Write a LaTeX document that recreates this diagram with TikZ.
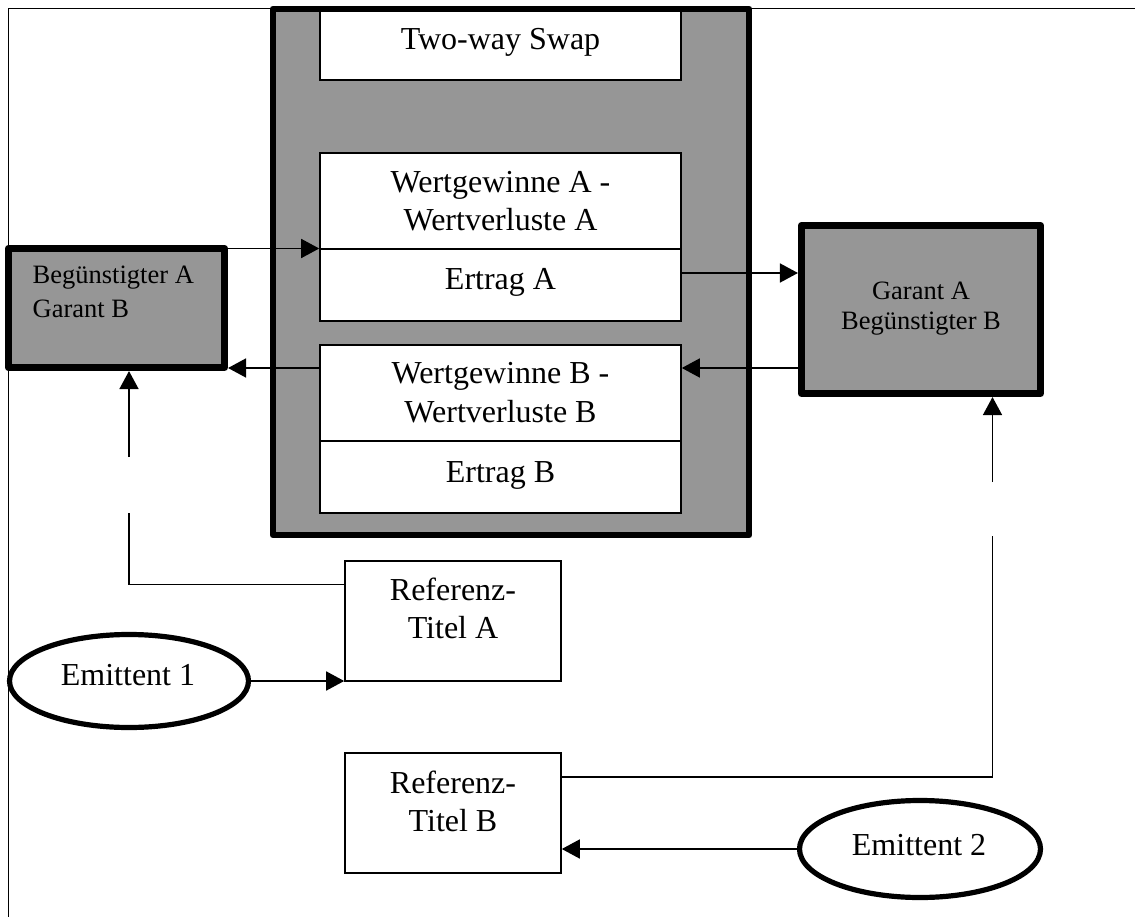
\documentclass[tikz,border=0pt]{standalone}
\usepackage{fontspec}
\setmainfont{Liberation Serif}
\usetikzlibrary{arrows.meta,shapes.geometric}
\definecolor{boxgray}{RGB}{150,150,150}
\begin{document}
\begin{tikzpicture}[x=1pt,y=-1pt,
  thinline/.style={line width=1.6pt},
  thickbox/.style={rectangle,draw,fill=boxgray,line width=6.8pt,line join=round,inner sep=0pt},
  whitebox/.style={rectangle,draw,fill=white,line width=1.6pt,inner sep=0pt},
  oval/.style={ellipse,draw,fill=white,line width=5.2pt,inner sep=0pt},
  conn/.style={line width=1.6pt},
  arr/.style={line width=1.6pt,-{Triangle[length=18pt,width=19pt]}},
  bigtxt/.style={font=\fontsize{32}{37}\selectfont,anchor=base,inner sep=0pt},
  smalltxt/.style={font=\fontsize{26.5}{30}\selectfont,anchor=base,inner sep=0pt}]
\useasboundingbox (0,0) rectangle (1135,917);

% page frame
\draw[thinline] (8.5,917) -- (8.5,8.5) -- (1135,8.5);

% swap container and its parts
\node[thickbox,minimum width=476pt,minimum height=526pt] (swap) at (511,272) {};
\node[whitebox,minimum width=361pt,minimum height=69pt] (twoway) at (500.5,45.5) {};
\node[whitebox,minimum width=361pt,minimum height=96pt] (wAtop) at (500.5,201) {};
\node[whitebox,minimum width=361pt,minimum height=72pt] (wAbot) at (500.5,285) {};
\node[whitebox,minimum width=361pt,minimum height=96pt] (wBtop) at (500.5,393) {};
\node[whitebox,minimum width=361pt,minimum height=72pt] (wBbot) at (500.5,477) {};

% parties
\node[thickbox,minimum width=216.3pt,minimum height=119.3pt] (begA) at (116.5,308) {};
\node[thickbox,minimum width=239.3pt,minimum height=168.3pt] (garA) at (921,309.5) {};

% reference titles and issuers
\node[whitebox,minimum width=216pt,minimum height=120pt] (refA) at (453,621) {};
\node[whitebox,minimum width=216pt,minimum height=120pt] (refB) at (453,813) {};
\node[oval,minimum width=239pt,minimum height=93pt] (em1) at (129,681) {};
\node[oval,minimum width=241pt,minimum height=97pt] (em2) at (920,849) {};

% labels
\node[bigtxt] (tSwap) at (500.5,50) {Two-way Swap};
\node[bigtxt] (tWA1) at (500.5,193) {Wertgewinne A -};
\node[bigtxt] (tWA2) at (500.5,231) {Wertverluste A};
\node[bigtxt] (tEA) at (500.5,290) {Ertrag A};
\node[bigtxt] (tWB1) at (500.5,383) {Wertgewinne B -};
\node[bigtxt] (tWB2) at (500.5,422) {Wertverluste B};
\node[bigtxt] (tEB) at (500.5,482) {Ertrag B};
\node[smalltxt,anchor=base west] (tBegA1) at (32.5,284) {Begünstigter A};
\node[smalltxt,anchor=base west] (tBegA2) at (32.5,317) {Garant B};
\node[smalltxt] (tGarA1) at (921,300) {Garant A};
\node[smalltxt] (tGarA2) at (921,330) {Begünstigter B};
\node[bigtxt] (tRefA1) at (453,600) {Referenz-};
\node[bigtxt] (tRefA2) at (453,638) {Titel A};
\node[bigtxt] (tRefB1) at (453,793) {Referenz-};
\node[bigtxt] (tRefB2) at (453,831) {Titel B};
\node[bigtxt] (tEm1) at (128,685) {Emittent 1};
\node[bigtxt] (tEm2) at (919,855) {Emittent 2};

% routing rails
\coordinate (r1) at (0,248.5);
\coordinate (r2) at (0,273);
\coordinate (r3) at (0,368);
\coordinate (rA) at (0,584.3);
\coordinate (rB) at (0,776.7);
\coordinate (cL) at (129,0);
\coordinate (cR) at (992.5,0);
\coordinate (gapL1) at (129,457);
\coordinate (gapL2) at (129,513);
\coordinate (gapR1) at (992.5,482);
\coordinate (gapR2) at (992.5,536);

% payment flows
\draw[arr] (begA.east |- r1) -- (wAtop.west |- r1);
\draw[arr] (wAbot.east |- r2) -- (garA.west |- r2);
\draw[arr] (garA.west |- r3) -- (wBtop.east |- r3);
\draw[arr] (wBtop.west |- r3) -- (begA.east |- r3);

% reference title links
\draw[conn] (refA.west |- rA) -- (cL |- rA) -- (gapL2);
\draw[arr] (gapL1) -- (cL |- begA.south);
\draw[conn] (refB.east |- rB) -- (cR |- rB) -- (gapR2);
\draw[arr] (gapR1) -- (cR |- garA.south);

% issuers
\draw[arr] (em1.east) -- (refA.west |- em1.east);
\draw[arr] (em2.west) -- (refB.east |- em2.west);
\end{tikzpicture}
\end{document}
